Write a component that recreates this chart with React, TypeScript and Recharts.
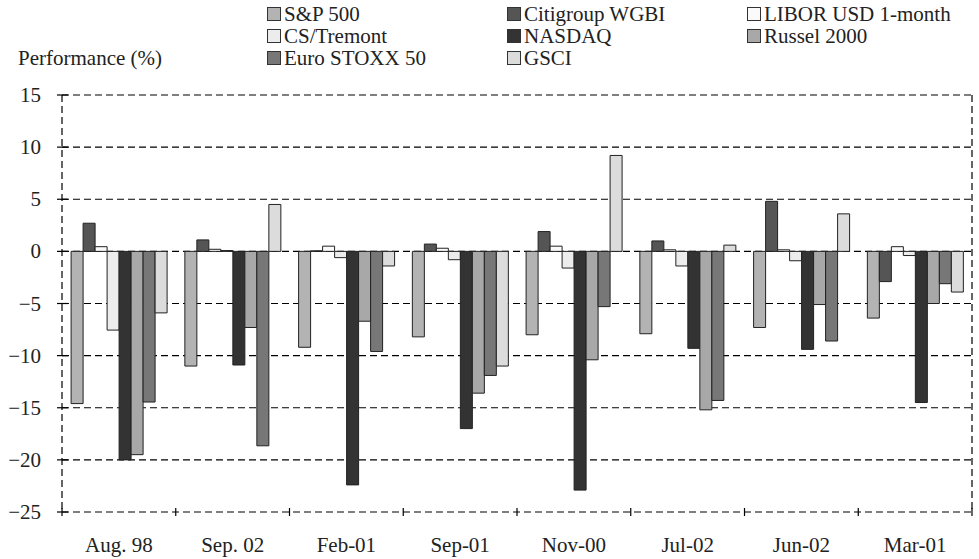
import React from "react";
import { BarChart, Bar, XAxis, YAxis, CartesianGrid } from "recharts";

const categories = ["Aug. 98", "Sep. 02", "Feb-01", "Sep-01", "Nov-00", "Jul-02", "Jun-02", "Mar-01"];

const sp500 = [-14.6, -11.0, -9.2, -8.2, -8.0, -7.9, -7.3, -6.4];
const citigroup = [2.7, 1.1, 0.05, 0.7, 1.9, 1.0, 4.8, -2.9];
const libor = [0.45, 0.2, 0.5, 0.3, 0.5, 0.15, 0.15, 0.45];
const csTremont = [-7.55, 0.08, -0.6, -0.8, -1.6, -1.4, -0.9, -0.4];
const nasdaq = [-20.0, -10.9, -22.4, -17.0, -22.9, -9.3, -9.4, -14.5];
const russel = [-19.5, -7.3, -6.7, -13.6, -10.4, -15.2, -5.1, -5.0];
const euroStoxx = [-14.45, -18.65, -9.6, -11.9, -5.3, -14.3, -8.6, -3.1];
const gsci = [-5.9, 4.5, -1.4, -11.0, 9.2, 0.6, 3.6, -3.9];

const yTicks = [-25, -20, -15, -10, -5, 0, 5, 10, 15];
const boundaryTicks = [0, 1, 2, 3, 4, 5, 6, 7, 8];

const series = [
  { key: "sp500", name: "S&P 500", fill: "#b3b3b3", values: sp500 },
  { key: "citigroup", name: "Citigroup WGBI", fill: "#555555", values: citigroup },
  { key: "libor", name: "LIBOR USD 1-month", fill: "#fafafa", values: libor },
  { key: "csTremont", name: "CS/Tremont", fill: "#ececec", values: csTremont },
  { key: "nasdaq", name: "NASDAQ", fill: "#333333", values: nasdaq },
  { key: "russel", name: "Russel 2000", fill: "#a8a8a8", values: russel },
  { key: "euroStoxx", name: "Euro STOXX 50", fill: "#777777", values: euroStoxx },
  { key: "gsci", name: "GSCI", fill: "#dcdcdc", values: gsci },
];

const data = categories.map((name, i) => {
  const row: Record<string, string | number> = { name };
  series.forEach((s) => (row[s.key] = s.values[i]));
  return row;
});

const FONT = "'Liberation Serif', 'Times New Roman', Times, 'DejaVu Serif', serif";
const TEXT = "#222";

const YTick = (props: any) => {
  const { x, y, payload } = props;
  const v = payload.value as number;
  const label = v < 0 ? `\u2212${Math.abs(v)}` : `${v}`;
  return (
    <g>
      <line x1={x - 5} x2={x + 6} y1={y} y2={y} stroke="#000" strokeWidth={1.2} />
      <text x={x - 21} y={y} textAnchor="end" dominantBaseline="central" fill={TEXT} style={{ fontFamily: FONT, fontSize: 21 }}>
        {label}
      </text>
    </g>
  );
};

const XTick = (props: any) => {
  const { x, y, payload, index } = props;
  const half = payload && typeof payload.offset === "number" ? payload.offset : null;
  return (
    <g>
      {half !== null && (
        <line x1={x - half} x2={x - half} y1={y - 4} y2={y + 4} stroke="#000" strokeWidth={1.2} />
      )}
      {half !== null && index === categories.length - 1 && (
        <line x1={x + half} x2={x + half} y1={y - 4} y2={y + 4} stroke="#000" strokeWidth={1.2} />
      )}
      <text x={x} y={y + 33} textAnchor="middle" dominantBaseline="central" fill={TEXT} style={{ fontFamily: FONT, fontSize: 21 }}>
        {payload.value}
      </text>
    </g>
  );
};

const legendRows = [
  [series[0], series[1], series[2]],
  [series[3], series[4], series[5]],
  [series[6], series[7]],
];

export default function App() {
  return (
    <div style={{ position: "fixed", left: 0, top: 0, width: 979, height: 559, background: "#fff", fontFamily: FONT }}>
      <BarChart
        width={979}
        height={559}
        data={data}
        margin={{ top: 95, right: 7, bottom: 0, left: 0 }}
        barCategoryGap="8%"
        barGap={0}
        style={{ fontFamily: FONT }}
      >
        <XAxis
          xAxisId="grid"
          type="number"
          orientation="top"
          domain={[0, 8]}
          ticks={boundaryTicks}
          allowDataOverflow
          height={0}
          axisLine={false}
          tickLine={false}
          tick={false}
        />
        <CartesianGrid xAxisId="grid" stroke="#000" strokeWidth={1.2} strokeDasharray="7 4" />
        <XAxis
          dataKey="name"
          height={47}
          axisLine={false}
          tickLine={false}
          tickSize={0}
          tickMargin={0}
          interval={0}
          tick={<XTick />}
        />
        <YAxis
          type="number"
          domain={[-25, 15]}
          ticks={yTicks}
          width={62}
          axisLine={false}
          tickLine={false}
          tickSize={0}
          tickMargin={0}
          interval={0}
          tick={<YTick />}
        />
        {series.map((s) => (
          <Bar
            key={s.key}
            dataKey={s.key}
            name={s.name}
            fill={s.fill}
            stroke="#222"
            strokeWidth={1}
            isAnimationActive={false}
          />
        ))}
      </BarChart>

      <div
        style={{
          position: "absolute",
          left: 18,
          top: 47,
          height: 22,
          lineHeight: "22px",
          fontSize: 21,
          color: TEXT,
        }}
      >
        Performance (%)
      </div>

      {legendRows.map((row, r) =>
        row.map((s, c) => (
          <div
            key={s.key}
            style={{
              position: "absolute",
              left: 267 + c * 240,
              top: 3 + r * 22,
              height: 22,
              display: "flex",
              alignItems: "center",
              fontSize: 21,
              color: TEXT,
              whiteSpace: "nowrap",
            }}
          >
            <span
              style={{
                display: "inline-block",
                width: 12,
                height: 12,
                background: s.fill,
                border: "1px solid #333",
                marginRight: 3,
              }}
            />
            {s.name}
          </div>
        ))
      )}
    </div>
  );
}
